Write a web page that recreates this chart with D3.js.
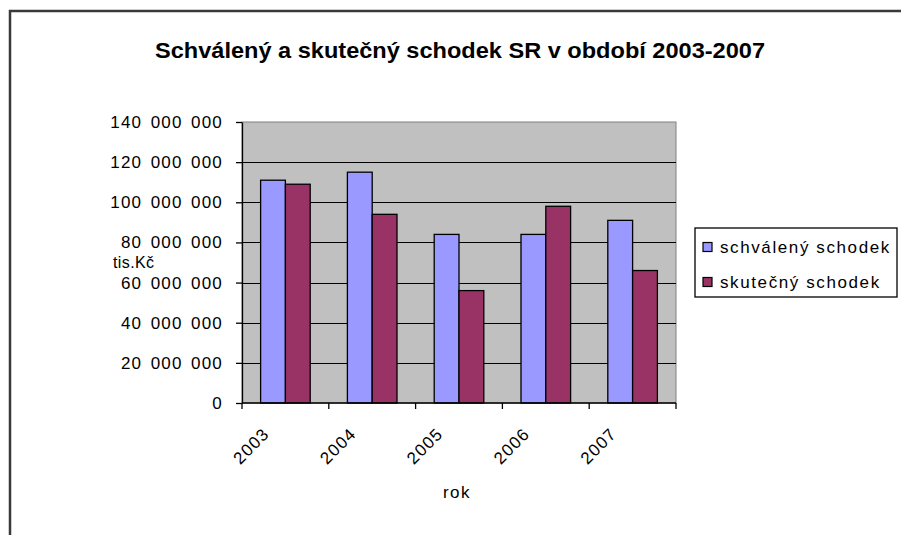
<!DOCTYPE html>
<html>
<head>
<meta charset="utf-8">
<script src="https://cdn.jsdelivr.net/npm/d3@7"></script>
<style>
  html, body { margin: 0; padding: 0; background: #fff; overflow: hidden; }
  svg { display: block; font-family: "Liberation Sans", Arial, sans-serif; }
</style>
</head>
<body>
<svg id="chart" width="901" height="535"></svg>
<script>
// Státní rozpočet: schválený a skutečný schodek (tis. Kč)
const years = ["2003", "2004", "2005", "2006", "2007"];
const seriesNames = ["schválený schodek", "skutečný schodek"];
const approved = [111000000, 115000000, 84000000, 84000000, 91000000];
const actual   = [109000000, 94000000, 56000000, 98000000, 66000000];
const yTicks = [0, 20000000, 40000000, 60000000, 80000000, 100000000, 120000000, 140000000];
const colors = ["#9999FF", "#993366"];

const svg = d3.select("#chart");
const plot = { left: 242, right: 676, top: 122, bottom: 403 };

// outer chart frame: only its top and left edges fall inside the page
svg.append("path")
  .attr("d", "M10,540 L10,11 L905,11")
  .attr("fill", "none").attr("stroke", "#3a3a3a").attr("stroke-width", 2.5);

// title
svg.append("text")
  .attr("x", 460).attr("y", 58)
  .attr("text-anchor", "middle")
  .attr("font-size", 22).attr("font-weight", "bold")
  .attr("textLength", 610).attr("lengthAdjust", "spacingAndGlyphs")
  .text("Schválený a skutečný schodek SR v období 2003-2007");

const x = d3.scaleBand().domain(years).range([plot.left, plot.right]).paddingInner(0).paddingOuter(0);
const x1 = d3.scaleBand().domain(seriesNames).range([0, x.bandwidth()]).paddingInner(0).paddingOuter(0.75);
const y = d3.scaleLinear().domain([0, 140000000]).range([plot.bottom, plot.top]);

// plot area background
svg.append("rect")
  .attr("x", plot.left).attr("y", plot.top)
  .attr("width", plot.right - plot.left).attr("height", plot.bottom - plot.top)
  .attr("fill", "#C0C0C0").attr("stroke", "#808080").attr("stroke-width", 1);

// horizontal gridlines
svg.append("g").selectAll("line")
  .data(yTicks.filter(t => t > 0 && t < 140000000))
  .join("line")
  .attr("x1", plot.left).attr("x2", plot.right)
  .attr("y1", d => Math.round(y(d)) + 0.5).attr("y2", d => Math.round(y(d)) + 0.5)
  .attr("stroke", "#000").attr("stroke-width", 1);

// bars
const rows = years.map((yr, i) => ({ year: yr, values: [approved[i], actual[i]] }));
svg.append("g").selectAll("g")
  .data(rows)
  .join("g")
  .attr("transform", d => `translate(${x(d.year)},0)`)
  .selectAll("rect")
  .data(d => d.values.map((v, k) => ({ name: seriesNames[k], value: v, k })))
  .join("rect")
  .attr("x", d => x1(d.name))
  .attr("width", x1.bandwidth())
  .attr("y", d => y(d.value))
  .attr("height", d => y(0) - y(d.value))
  .attr("fill", d => colors[d.k])
  .attr("stroke", "#000").attr("stroke-width", 1.3);

// y axis
const fmt = v => d3.format(",")(v).replace(/,/g, " ");
const yAxis = svg.append("g")
  .attr("transform", `translate(${plot.left},0)`)
  .call(d3.axisLeft(y).tickValues(yTicks).tickFormat(fmt).tickSize(6).tickSizeOuter(0));
yAxis.select(".domain").attr("stroke", "#000").attr("stroke-width", 1.3);
yAxis.selectAll(".tick line").attr("stroke", "#000").attr("stroke-width", 1.3);
yAxis.selectAll(".tick text")
  .attr("x", -19)
  .attr("font-size", 17).attr("fill", "#000")
  .style("letter-spacing", "1.2px").style("word-spacing", "2.5px");

// x axis line with ticks at category boundaries
svg.append("line")
  .attr("x1", plot.left).attr("x2", plot.right)
  .attr("y1", plot.bottom).attr("y2", plot.bottom)
  .attr("stroke", "#000").attr("stroke-width", 1.3);
svg.append("g").selectAll("line")
  .data(years.map(d => x(d)).concat([x.range()[1]]))
  .join("line")
  .attr("x1", d => d).attr("x2", d => d)
  .attr("y1", plot.bottom).attr("y2", plot.bottom + 6)
  .attr("stroke", "#000").attr("stroke-width", 1.3);

// x category labels, rotated
const xAxis = svg.append("g")
  .attr("transform", `translate(0,${plot.bottom})`)
  .call(d3.axisBottom(x).tickSize(0));
xAxis.select(".domain").remove();
xAxis.selectAll(".tick text")
  .attr("x", 0).attr("y", 0).attr("dy", 0)
  .attr("text-anchor", "end")
  .attr("transform", "translate(-15,32) rotate(-45)")
  .attr("font-size", 17).attr("fill", "#000")
  .style("letter-spacing", "1.2px");

// axis titles
svg.append("text")
  .attr("x", 457).attr("y", 498)
  .attr("text-anchor", "middle")
  .attr("font-size", 17).style("letter-spacing", "1.5px")
  .text("rok");
svg.append("text")
  .attr("x", 113).attr("y", 268)
  .attr("font-size", 16).style("letter-spacing", "0.4px")
  .text("tis.Kč");

// legend
const lg = svg.append("g");
lg.append("rect")
  .attr("x", 695).attr("y", 228).attr("width", 202).attr("height", 69)
  .attr("fill", "#fff").attr("stroke", "#000").attr("stroke-width", 1.3);
const items = lg.selectAll("g.item")
  .data(seriesNames)
  .join("g")
  .attr("class", "item")
  .attr("transform", (d, i) => `translate(703,${247 + i * 35})`);
items.append("rect")
  .attr("x", 0).attr("y", -4.5).attr("width", 9).attr("height", 9)
  .attr("fill", (d, i) => colors[i]).attr("stroke", "#000").attr("stroke-width", 1.2);
items.append("text")
  .attr("x", 17).attr("y", 6)
  .attr("font-size", 17).style("letter-spacing", "1.6px")
  .text(d => d);
</script>
</body>
</html>
